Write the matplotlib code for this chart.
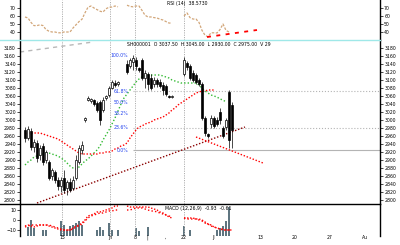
import numpy as np
import matplotlib
matplotlib.use("Agg")
import matplotlib.pyplot as plt
from matplotlib.lines import Line2D
from matplotlib.patches import Rectangle

nan = np.nan

# ---------------- data ----------------
opens = [2975, 2955, 2972.5, 2932.5, 2942.5, 2912.5, 2935, 2900, 2895, 2860,
         2870, 2850, 2835, 2855, 2830, 2845, 2830, 2855, 2895, 2925,
         3000, 3050, 3047.5, 3050, 3042.5, 3045, 3025, 3055, 3062.5, 3080,
         3092.5, 3090, nan, nan, 3140, 3135, 3145, 3150, 3130, 3150,
         3105, 3115, 3105, 3090, 3100, 3095, 3087.5, 3085, 3060, 3057.5,
         nan, nan, nan, 3115, 3142.5, 3135, 3117.5, 3112.5, 3100, 3090,
         3005, 2965, 2990, 3005, 3000, 3020, 2980, 2982.5, 3070, 3037.5]
closes = [2955, 2977.5, 2932.5, 2945, 2905, 2930, 2895, 2920, 2855, 2875,
          2850, 2835, 2850, 2825, 2845, 2825, 2850, 2900, 2930, 2937.5,
          3005, 3055, 3052.5, 3040, 3025, 3000, 3050, 3060, 3080, 3095,
          3087.5, 3095, nan, nan, 3120, 3150, 3155, 3135, 3125, 3105,
          3117.5, 3090, 3080, 3100, 3090, 3085, 3075, 3065, 3057.5, 3060,
          nan, nan, nan, 3150, 3132.5, 3105, 3100, 3095, 3090, 3005,
          2967.5, 2960, 3005, 2985, 2990, 3000, 2960, 3000, 2950, 2975]
highs = [2982.5, 2985, 2980, 2952.5, 2950, 2937.5, 2942.5, 2925, 2900, 2880,
         2875, 2857.5, 2857.5, 2875, 2850, 2855, 2860, 2912.5, 2937.5, 2947.5,
         3007.5, 3060, 3055, 3052.5, 3047.5, 3050, 3057.5, 3062.5, 3085, 3100,
         3100, 3097.5, nan, nan, 3150, 3155, 3162.5, 3157.5, 3132.5, 3155,
         3125, 3120, 3115, 3107.5, 3105, 3102.5, 3095, 3090, 3062.5, 3062.5,
         nan, nan, nan, 3157.5, 3147.5, 3140, 3125, 3117.5, 3105, 3095,
         3010, 2967.5, 3012.5, 3010, 3007.5, 3030, 2985, 3005, 3075, 3045]
lows = [2945, 2950, 2925, 2920, 2895, 2900, 2887.5, 2892.5, 2850, 2850,
        2842.5, 2825, 2820, 2817.5, 2812.5, 2820, 2825, 2850, 2890, 2915,
        2995, 3047.5, 3042.5, 3035, 3020, 2987.5, 3020, 3050, 3057.5, 3077.5,
        3082.5, 3085, nan, nan, 3115, 3130, 3125, 3125, 3120, 3100,
        3080, 3075, 3075, 3082.5, 3082.5, 3080, 3062.5, 3060, 3055, 3055,
        nan, nan, nan, 3110, 3125, 3100, 3095, 3090, 3085, 3000,
        2960, 2955, 2980, 2980, 2985, 2990, 2955, 2975, 2930, 2930]

ma_green = [2887.5, 2895, 2900, 2907.5, 2910, 2912.5, 2915, 2917.5, 2917.5, 2915,
            2912.5, 2910, 2905, 2900, 2892.5, 2885, 2880, 2877.5, 2882.5, 2890,
            2897.5, 2902.5, 2910, 2917.5, 2925, 2935, 2950, 2962.5, 2975, 2990,
            3005, 3022.5, 3040, 3055, 3065, 3075, 3085, 3095, 3102.5, 3107.5,
            3110, 3112.5, 3112.5, 3112.5, 3112.5, 3112.5, 3110, 3107.5, 3105, 3100,
            3097.5, 3095, 3092.5, 3092.5, 3092.5, 3092.5, 3092.5, 3092.5, 3087.5, 3080,
            3072.5, 3067.5, 3062.5, 3060, 3057.5, 3052.5, 3050, 3045, nan, nan]

band_red = [2965, 2967.5, 2967.5, 2967.5, 2967.5, 2967.5, 2965, 2962.5, 2960, 2957.5,
            2955, 2952.5, 2947.5, 2942.5, 2937.5, 2932.5, 2927.5, 2922.5, 2917.5, 2915,
            2915, 2915, 2915, 2915, 2915, 2917.5, 2917.5, 2920, 2920, 2922.5,
            2927.5, 2930, 2935, 2937.5, 2942.5, 2955, 2965, 2975, 2982.5, 2985,
            2990, 2992.5, 2995, 3000, 3002.5, 3005, 3007.5, 3012.5, 3017.5, 3025,
            3030, 3037.5, 3042.5, 3047.5, 3052.5, 3057.5, 3062.5, 3067.5, 3070, 3072.5,
            3072.5, 3075, 3075, 3075, nan, nan, nan, nan, nan, nan]

rsi = [58.8, 57.5, 52, 48, 48, 49, 48, 43, 41, 40,
       40, 39, 39, 40, 40, 40, 45, 49, 53, 56,
       64, 71, 72.5, 70, 68, 66, 65, 69, 71, 71.2,
       72.5, 71.5, nan, nan, 73.5, 72, 71.5, 72.5, 72.5, 67,
       61, 58.8, 58.8, 58, 57.5, 56, 55, 53, 51.2, 51.2,
       nan, nan, nan, 60, 63.8, 58, 56.2, 56.2, 52, 42,
       36, 34, 39, 39, 38.8, 43, 50, 42, 40, nan]

macd_a = [-6, -5, -6, -7, -6, -5, -5, -5, -6, -7,
          -8, -9, -10, -10, -10, -10, -8, -6, -5, -3,
          0, 4, 5, 6, 8, 8, 9, 10, 11, 12,
          14, 14, nan, nan, 14, 13, 13, 13, 13, 13,
          13, 13, 12, 11, 10, 8, 7, 5, 3, 2,
          nan, nan, nan, 2, 2, 2, 2, 1, 1, 0,
          -2, -4, -5, -7, -8, -9, -10, -10, -10, -10]
macd_b = [-7, -6, -5, -5, -5, -5, -5, -5, -5, -6,
          -7, -8, -9, -10, -10, -10, -9, -7, -6, -4,
          -1, 2, 4, 5, 6, 7, 7, 8, 9, 9,
          10, 10, nan, nan, 10, 10, 11, 12, 12, 12,
          11, 10, 9, 9, 8, 7, 6, 5, 4, 3,
          nan, nan, nan, 2, 1, 1, 1, 1, 0, -1,
          -3, -4, -6, -7, -8, -9, -9, -10, -10, -10]

volume = [0, 9, 16, 8, 0, 0, 6, 6, 0, 0,
          0, 0, 15, 11, 6, 10, 11, 13, 15, 11,
          0, 0, 0, 0, 6, 9, 6, 0, 13, 6,
          0, 6, 0, 0, 0, 0, 0, 8, 5, 0,
          0, 9, 0, 0, 0, 0, 0, 0, 0, 0,
          0, 0, 0, 10, 0, 6, 0, 0, 0, 0,
          0, 0, 0, 0, 6, 8, 10, 15, 29, 0]

date_sep = [12.33, 28.33, 36.67, 53]
date_ticks = [12.33, 28.33, 36.67, 40.7, 46.7, 53, 62.7, 78.3, 90, 101.7, 113.3]
date_labels = ["15", "Jn", "8", "|", ",", "22", "Jl", "13", "20", "27", "Au"]

fib_low, fib_high, fib_start = 2925.0, 3162.5, 36
fib_ratios = [0.0, 0.236, 0.382, 0.5, 0.618, 1.0]
fib_labels = ["0.0%", "23.6%", "38.2%", "50.0%", "61.8%", "100.0%"]
fib_line_style = {0.0: "-", 0.236: ":", 0.618: ":"}

trend_up = ([4, 73.33], [2792.5, 2982.5])
trend_down = ([57, 79.33], [2957.5, 2892.5])
trend_gray = ([-1.667, 22.67], [3170, 3195])
rsi_trend = ([60.67, 77.33], [33.75, 42.5])

price_ticks = list(range(2800, 3181, 20))
rsi_ticks = [40, 50, 60, 70]
macd_ticks = [-10, 0, 10]

# ---------------- layout ----------------
fig = plt.figure(figsize=(4, 2.45), dpi=100)
L, W = 20 / 400, 360 / 400
def fy(px):
    return 1 - px / 245
ax_top = fig.add_axes([L, fy(40), W, 40 / 245])
ax_main = fig.add_axes([L, fy(204), W, 164 / 245])
ax_bot = fig.add_axes([L, fy(236), W, 32 / 245])
xlim = (-5 / 3, 355 / 3)
idx = np.arange(len(opens))

for ax in (ax_top, ax_main, ax_bot):
    ax.set_xlim(*xlim)
    ax.set_facecolor("white")
    for s in ("top", "bottom"):
        ax.spines[s].set_visible(False)
    for s in ("left", "right"):
        ax.spines[s].set_linewidth(1.0)
        ax.spines[s].set_color("black")
    ax.tick_params(axis="y", left=True, right=True, labelleft=True, labelright=True,
                   length=2, width=0.5, labelsize=3.3, pad=1, colors="black")
    ax.tick_params(axis="x", bottom=False, labelbottom=False)
    for xv in date_sep:
        ax.axvline(xv, color="#b0b0b0", lw=0.7, ls=(0, (1.2, 1.2)), zorder=0)

# ---------------- top panel (RSI) ----------------
ax_top.set_ylim(30, 80)
ax_top.set_yticks(rsi_ticks)
ax_top.plot(idx, rsi, color="#d2a679", lw=0.9, ls=(0, (2, 1.2)))
ax_top.plot(*rsi_trend, color="red", lw=1.3, ls=(0, (2.2, 3)))
ax_top.text(47.3, 75, "RSI (14)  38.5730", fontsize=3.3, va="center", ha="left")

# ---------------- main panel ----------------
ax_main.set_ylim(2790, 3200)
ax_main.set_yticks(price_ticks)

for r in fib_ratios:
    lvl = fib_low + r * (fib_high - fib_low)
    if r in fib_line_style:
        ax_main.hlines(lvl, fib_start, xlim[1], color="#b4b4b4", lw=0.8,
                       ls=fib_line_style[r], zorder=1)
for r, lab in zip(fib_ratios, fib_labels):
    lvl = fib_low + r * (fib_high - fib_low)
    ax_main.text(34.4, lvl, lab, color="#2040ee", fontsize=3.3, ha="right", va="center")

ax_main.plot(*trend_gray, color="#b8b8b8", lw=1.0, ls=(0, (3, 3)))
ax_main.plot(*trend_up, color="#8b0000", lw=1.0, ls=(0, (1, 1.3)))
ax_main.plot(*trend_down, color="red", lw=1.0, ls=(0, (1, 1.3)))
ax_main.plot(idx, ma_green, color="#33bb33", lw=1.0, ls=(0, (1, 1.5)))
ax_main.plot(idx, band_red, color="red", lw=1.0, ls=(0, (1, 1.3)))

for i in idx:
    o, c, h, l = opens[i], closes[i], highs[i], lows[i]
    if np.isnan(o):
        continue
    ax_main.vlines(i, l, h, color="black", lw=0.5, zorder=3)
    bot = min(o, c)
    hgt = max(abs(c - o), 1.5)
    fc = "black" if c < o else "white"
    ax_main.add_patch(Rectangle((i - 0.33, bot), 0.66, hgt, facecolor=fc,
                                edgecolor="black", lw=0.5, zorder=4))

ax_main.text(34.0, 3190, "SH000001  O 3037.50  H 3045.00  L 2930.00  C 2975.00  V 29",
             fontsize=3.3, ha="left", va="center")

# ---------------- bottom panel ----------------
ax_bot.set_ylim(-16, 16)
ax_bot.set_yticks(macd_ticks)
axv = ax_bot.twinx()
axv.set_xlim(*xlim)
axv.set_ylim(0, 32)
axv.axis("off")
axv.bar(idx, volume, width=0.5, color="#5f7580", zorder=1)
ax_bot.set_zorder(axv.get_zorder() + 1)
ax_bot.patch.set_visible(False)
ax_bot.plot(idx, macd_a, color="red", lw=1.0, ls=(0, (1, 1.2)))
ax_bot.plot(idx, macd_b, color="red", lw=1.0, ls=(0, (1, 1.6)))
ax_bot.text(46.7, 12, "MACD (12,26,9)  -0.93  -0.61", fontsize=3.3, ha="left", va="center")
ax_bot.set_xticks(date_ticks)
ax_bot.set_xticklabels(date_labels)
ax_bot.tick_params(axis="x", bottom=True, labelbottom=True, length=0, labelsize=3.3, pad=-1)

# separators spanning full width
fig.add_artist(Line2D([0, 380 / 400], [fy(40), fy(40)], color="#9fe8e8", lw=1.0))
fig.add_artist(Line2D([0, 380 / 400], [fy(204), fy(204)], color="black", lw=1.0))

fig.savefig("out.png", dpi=100)
